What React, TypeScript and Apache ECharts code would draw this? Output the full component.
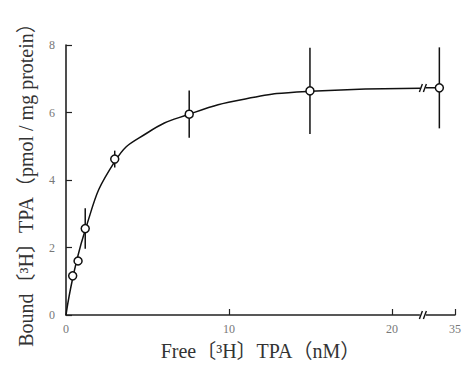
import React, { useEffect, useRef } from "react";
import * as echarts from "echarts";

// Measured data (free [3H] TPA in nM, bound in pmol/mg protein)
const freeTPA = [0.41, 0.74, 1.18, 2.99, 7.56, 14.97, 30];
const boundTPA = [1.16, 1.6, 2.56, 4.62, 5.95, 6.64, 6.73];
const boundErr = [0, 0, 0.6, 0.25, 0.7, 1.28, 1.2];

// Fitted saturation curve as drawn
const curveX = [0, 1.18, 3, 5, 7.56, 11, 15, 21.75];
const curveY = [0, 2.52, 4.55, 5.4, 5.95, 6.4, 6.63, 6.72];
const curveAfterBreakX = [25.6, 30];
const curveAfterBreakY = [6.73, 6.73];

// Axis
const xTickValues = [0, 10, 20, 35];
const yTicks = [0, 2, 4, 6, 8];

// Broken x-axis: 0..22 linear, then 25..35 compressed
const BREAK_DISPLAY = 21.9;
const toDisplay = (x: number) => (x <= 22 ? x : 21.95 + (x - 25) * 0.192);

export default function App() {
  const ref = useRef<HTMLDivElement>(null);
  useEffect(() => {
    if (!ref.current) return;
    const chart = echarts.init(ref.current, undefined, { renderer: "svg" });
    const serif = "'Liberation Serif', 'Times New Roman', 'Noto Sans CJK SC', serif";
    const xMax = toDisplay(35);
    const tickDisplay = xTickValues.map(toDisplay);
    const labelMap: Record<string, string> = {};
    xTickValues.forEach((v, i) => (labelMap[tickDisplay[i].toFixed(3)] = String(v)));

    const option: any = {
      animation: false,
      backgroundColor: "#fff",
      grid: { left: 66, right: 12, top: 45, bottom: 52, containLabel: false },
      xAxis: {
        type: "value",
        min: 0,
        max: xMax,
        name: "Free〔³H〕TPA（nM）",
        nameLocation: "middle",
        nameGap: 26,
        nameTextStyle: { fontFamily: serif, fontSize: 20, color: "#333" },
        splitLine: { show: false },
        axisLine: { lineStyle: { color: "#222", width: 1.6 } },
        axisTick: {
          inside: true,
          length: 6,
          lineStyle: { color: "#222", width: 1.2 },
          customValues: tickDisplay.slice(1),
        },
        axisLabel: {
          customValues: tickDisplay,
          formatter: (v: number) => labelMap[v.toFixed(3)] ?? "",
          fontFamily: serif,
          fontSize: 12,
          color: "#777",
          margin: 8,
        },
      },
      yAxis: {
        type: "value",
        min: 0,
        max: 8,
        interval: 2,
        name: "Bound〔³H〕TPA（pmol / mg protein）",
        nameLocation: "middle",
        nameGap: 30,
        nameTextStyle: { fontFamily: serif, fontSize: 20, color: "#333" },
        splitLine: { show: false },
        axisLine: { show: true, lineStyle: { color: "#222", width: 1.6 } },
        axisTick: { inside: true, length: 6, lineStyle: { color: "#222", width: 1.2 } },
        axisLabel: {
          formatter: (v: number) => (yTicks.includes(v) ? String(v) : ""),
          fontFamily: serif,
          fontSize: 12,
          color: "#777",
          margin: 11,
        },
      },
      series: [
        {
          type: "line",
          data: curveX.map((x, i) => [toDisplay(x), curveY[i]]),
          smooth: 0.5,
          showSymbol: false,
          lineStyle: { color: "#111", width: 1.5 },
          z: 3,
        },
        {
          type: "line",
          data: curveAfterBreakX.map((x, i) => [toDisplay(x), curveAfterBreakY[i]]),
          showSymbol: false,
          lineStyle: { color: "#111", width: 1.5 },
          z: 3,
        },
        {
          type: "custom",
          data: freeTPA.map((x, i) => [toDisplay(x), boundTPA[i], boundErr[i]]),
          renderItem: (params: any, api: any) => {
            const e = api.value(2);
            if (!e) return { type: "group", children: [] };
            const x = api.value(0);
            const y = api.value(1);
            const p1 = api.coord([x, y - e]);
            const p2 = api.coord([x, y + e]);
            return {
              type: "line",
              shape: { x1: p1[0], y1: p1[1], x2: p2[0], y2: p2[1] },
              style: { stroke: "#111", lineWidth: 1.5 },
            };
          },
          z: 4,
        },
        {
          type: "custom",
          data: [
            [BREAK_DISPLAY, 0, 1],
            [BREAK_DISPLAY, 6.725, 0],
          ],
          renderItem: (params: any, api: any) => {
            const c = api.coord([api.value(0), api.value(1)]);
            const cover = api.value(2);
            const children: any[] = [];
            if (cover) {
              children.push({
                type: "rect",
                shape: { x: c[0] - 3, y: c[1] - 3, width: 6, height: 6 },
                style: { fill: "#fff" },
              });
            }
            [-2, 2].forEach((dx) => {
              children.push({
                type: "line",
                shape: { x1: c[0] + dx - 1.5, y1: c[1] + 4, x2: c[0] + dx + 1.5, y2: c[1] - 4 },
                style: { stroke: "#111", lineWidth: 1.4 },
              });
            });
            return { type: "group", children };
          },
          z: 5,
        },
        {
          type: "scatter",
          data: freeTPA.map((x, i) => [toDisplay(x), boundTPA[i]]),
          symbol: "circle",
          symbolSize: 8,
          itemStyle: { color: "#fff", borderColor: "#111", borderWidth: 1.5, opacity: 1 },
          z: 6,
        },
      ],
    };
    chart.setOption(option);
    return () => chart.dispose();
  }, []);
  return <div ref={ref} style={{ width: 467, height: 367, position: "absolute", left: 0, top: 0 }} />;
}
